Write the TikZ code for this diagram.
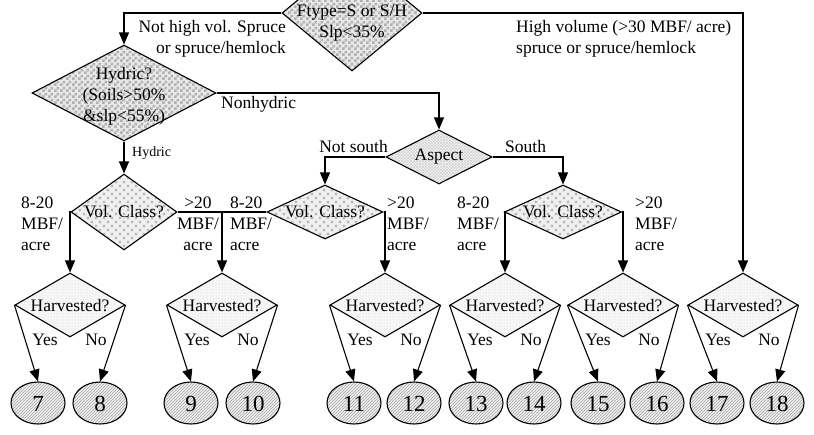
\documentclass[tikz,border=0pt]{standalone}
\usepackage{fontspec}
\setmainfont{Liberation Serif}
\usetikzlibrary{shapes.geometric,arrows.meta,patterns}
\pgfdeclarepatternformonly{bigchk}{\pgfqpoint{0pt}{0pt}}{\pgfqpoint{6pt}{6pt}}{\pgfqpoint{6pt}{6pt}}{%
  \pgfpathrectangle{\pgfqpoint{0pt}{0pt}}{\pgfqpoint{3pt}{3pt}}%
  \pgfpathrectangle{\pgfqpoint{3pt}{3pt}}{\pgfqpoint{3pt}{3pt}}%
  \pgfusepath{fill}}
\pgfdeclarepatternformonly{bigdots}{\pgfqpoint{-2pt}{-2pt}}{\pgfqpoint{6pt}{6pt}}{\pgfqpoint{8pt}{8pt}}{%
  \pgfpathcircle{\pgfqpoint{0pt}{0pt}}{1.7pt}%
  \pgfpathcircle{\pgfqpoint{4pt}{4pt}}{1.7pt}%
  \pgfusepath{fill}}
\begin{document}
\begin{tikzpicture}[x=1pt,y=-1pt,
  lw/.style={line width=1.1pt},
  arr/.style={line width=1.1pt,-{Triangle[width=10pt,length=12pt]}},
  dia/.style={diamond,draw,line width=1.1pt,inner sep=0pt},
  chk/.style={dia,preaction={fill=gray!18},pattern=bigchk,pattern color=gray!60},
  volc/.style={dia,preaction={fill=gray!12},pattern=bigdots,pattern color=gray!55},
  aspc/.style={dia,preaction={fill=gray!8},pattern=crosshatch,pattern color=gray!35},
  harv/.style={dia,minimum width=110pt,minimum height=64pt,preaction={fill=gray!6},pattern=dots,pattern color=gray!35},
  leaf/.style={ellipse,draw,line width=1.1pt,minimum width=54pt,minimum height=42pt,inner sep=0pt,
     preaction={fill=gray!12},pattern=north east lines,pattern color=gray!70},
  num/.style={font=\fontsize{23}{24}\selectfont,inner sep=0pt},
  txt/.style={font=\fontsize{17.5}{21}\selectfont,inner sep=0pt},
  sml/.style={font=\fontsize{14}{16}\selectfont,inner sep=0pt}
]
\useasboundingbox (0,0) rectangle (814,434);
\clip (0,0) rectangle (814,434);
\fill[white] (0,0) rectangle (814,434);

% decision diamonds
\node[chk,minimum width=140pt,minimum height=116pt] (top) at (352,13) {};
\node[txt,align=center] (toptxt) at (352,23) {Ftype=S or S/H\\Slp<35\%};
\node[chk,minimum width=184pt,minimum height=96pt] (hyd) at (124,93) {};
\node[txt,align=center] (hydtxt) at (124,96) {Hydric?\\(Soils>50\%\\\&slp<55\%)};
\node[aspc,minimum width=106pt,minimum height=54pt] (asp) at (439,157) {};
\node[txt] (asptxt) at (439,157) {Aspect};
\node[volc,minimum width=106pt,minimum height=76pt] (v1) at (124,212) {};
\node[txt] at (124,212) {Vol. Class?};
\node[volc,minimum width=116pt,minimum height=54pt] (v2) at (325,212) {};
\node[txt] at (325,212) {Vol. Class?};
\node[volc,minimum width=117pt,minimum height=54pt] (v3) at (563,212) {};
\node[txt] at (563,212) {Vol. Class?};

% harvested diamonds
\foreach \n/\c in {1/70,2/222,3/385,4/505,5/623,6/743}{
  \node[harv] (h\n) at (\c,305) {};
  \node[txt] at (\c,306) {Harvested?};
  \node[txt] at (\c-25,340) {Yes};
  \node[txt] at (\c+26,340) {No};
}

% leaves
\foreach \n/\c in {7/38,8/100,9/191,10/253,11/354,12/414,13/476,14/534,15/598,16/657,17/717,18/777}{
  \node[leaf] (e\n) at (\c,403) {};
  \node[num] at (\c,404) {\n};
}

% connectors
\draw[arr] (top.west) -| (hyd.north);
\draw[arr] (top.east) -| (h6.north);
\draw[arr] (hyd.east) -| (asp.north);
\draw[arr] (hyd.south) -- (v1.north);
\draw[arr] (asp.west) -| (v2.north);
\draw[arr] (asp.east) -| (v3.north);
\coordinate (j) at (222,212);
\draw[arr] (v1.west) -| (h1.north);
\draw[lw] (v1.east) -- (j);
\draw[lw] (v2.west) -- (j);
\draw[arr] (j) -- (h2.north);
\draw[arr] (v2.east) -| (h3.north);
\draw[arr] (v3.west) -| (h4.north);
\draw[arr] (v3.east) -| (h5.north);

\draw[arr] (h1.west) -- (e7.north);
\draw[arr] (h1.east) -- (e8.north);
\draw[arr] (h2.west) -- (e9.north);
\draw[arr] (h2.east) -- (e10.north);
\draw[arr] (h3.west) -- (e11.north);
\draw[arr] (h3.east) -- (e12.north);
\draw[arr] (h4.west) -- (e13.north);
\draw[arr] (h4.east) -- (e14.north);
\draw[arr] (h5.west) -- (e15.north);
\draw[arr] (h5.east) -- (e16.north);
\draw[arr] (h6.west) -- (e17.north);
\draw[arr] (h6.east) -- (e18.north);

% labels
\node[txt,align=right,anchor=east] at (286,39) {Not high vol. Spruce\\or spruce/hemlock};
\node[txt,align=left,anchor=west] at (516,39) {High volume (>30 MBF/ acre)\\spruce or spruce/hemlock};
\node[txt,anchor=west] at (221,104) {Nonhydric};
\node[sml,anchor=west] at (132,153) {Hydric};
\node[txt,anchor=east] at (388,147) {Not south};
\node[txt,anchor=west] at (505,147) {South};
\node[txt,align=left,anchor=west] at (21,224) {8-20\\MBF/\\acre};
\node[txt,align=center] at (198,224) {>20\\MBF/\\acre};
\node[txt,align=left,anchor=west] at (230,224) {8-20\\MBF/\\acre};
\node[txt,align=left,anchor=west] at (387,224) {>20\\MBF/\\acre};
\node[txt,align=left,anchor=west] at (457,224) {8-20\\MBF/\\acre};
\node[txt,align=left,anchor=west] at (635,224) {>20\\MBF/\\acre};
\end{tikzpicture}
\end{document}
